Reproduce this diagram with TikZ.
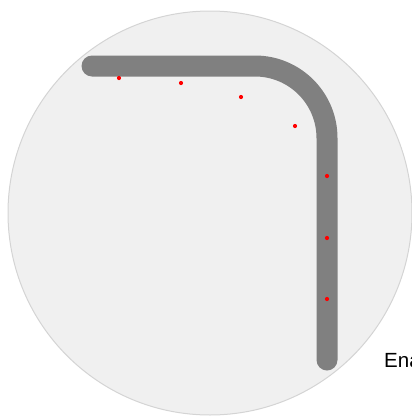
\documentclass[tikz,border=0pt]{standalone}
\usepackage{fontspec}
\setmainfont{Liberation Sans}

\begin{document}
\begin{tikzpicture}[x=1pt,y=-1pt,line join=round,line cap=round]
\useasboundingbox (0,0) rectangle (412,416);
\definecolor{disc}{RGB}{240,240,240}
\definecolor{rim}{RGB}{212,212,212}
\fill[disc,draw=rim,line width=1pt] (210,213) circle[radius=202];
\draw[gray,line width=21pt,rounded corners=72pt] (92,66) -- (327,66) -- (327,360);
\foreach \px/\py in {119/78,181/83,241/97,295/126,327/176,327/238,327/299}
    \fill[red] (\px,\py) circle[radius=2.1];
\node[anchor=base west,inner sep=0pt,font=\fontsize{20.5}{24}\selectfont] (lbl) at (384,367) {Ena};
\end{tikzpicture}
\end{document}
